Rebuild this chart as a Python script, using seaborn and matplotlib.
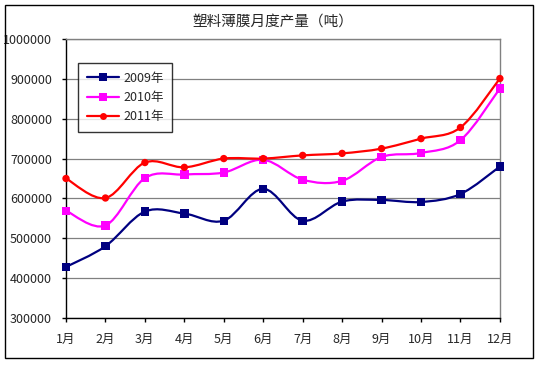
import numpy as np
import pandas as pd
import matplotlib
matplotlib.use("Agg")
import matplotlib.pyplot as plt
from matplotlib.path import Path
from matplotlib.patches import PathPatch, Rectangle
from matplotlib.lines import Line2D
import seaborn as sns

months = ["1月", "2月", "3月", "4月", "5月", "6月", "7月", "8月", "9月", "10月", "11月", "12月"]
y2009 = [428000, 480000, 567000, 562000, 544000, 624000, 544000, 592000, 596000, 591000, 611000, 680000]
y2010 = [569000, 532000, 651000, 660000, 665000, 697000, 647000, 644000, 704000, 714000, 746000, 876000]
y2011 = [650000, 601000, 690000, 678000, 700000, 700000, 708000, 713000, 725000, 750000, 778000, 901000]
years = ["2009年", "2010年", "2011年"]
colors = ["#000080", "#FF00FF", "#FF0000"]
markers = ["s", "s", "o"]
marker_sizes = [36, 36, 28]
yticks = [300000, 400000, 500000, 600000, 700000, 800000, 900000, 1000000]


def smooth_path(xs, ys):
    # bezier curve through the points, like Excel's smoothed lines
    pts = np.column_stack([xs, ys]).astype(float)
    n = len(pts)
    verts = [pts[0]]
    codes = [Path.MOVETO]
    for i in range(n - 1):
        p0 = pts[max(i - 1, 0)]
        p1 = pts[i]
        p2 = pts[i + 1]
        p3 = pts[min(i + 2, n - 1)]
        verts += [p1 + (p2 - p0) / 6, p2 - (p3 - p1) / 6, p2]
        codes += [Path.CURVE4] * 3
    return Path(verts, codes)


sns.set_style("white")
plt.rcParams["font.family"] = ["Noto Sans CJK SC", "DejaVu Sans"]

fig = plt.figure(figsize=(5.41, 3.65), dpi=100)
ax = fig.add_axes([0.122, 0.129, 0.802, 0.764])

x = list(range(len(months)))
series = [y2009, y2010, y2011]
for i, (name, vals) in enumerate(zip(years, series)):
    df = pd.DataFrame({"month": x, "value": vals})
    ax.add_patch(PathPatch(smooth_path(df["month"], df["value"]), fill=False,
                           edgecolor=colors[i], lw=1.6, zorder=3 + i, clip_on=False))
    sns.scatterplot(data=df, x="month", y="value", marker=markers[i], color=colors[i],
                    s=marker_sizes[i], edgecolor="none", linewidth=0, ax=ax, zorder=3 + i,
                    clip_on=False)

ax.set_xlim(0, 11)
ax.set_ylim(300000, 1000000)
ax.set_xticks(x)
ax.set_xticklabels(months)
ax.set_yticks(yticks)
ax.set_yticklabels([str(v) for v in yticks])
ax.set_xlabel("")
ax.set_ylabel("")
ax.grid(axis="y", color="#808080", lw=0.9)
ax.set_axisbelow(True)
ax.tick_params(axis="both", direction="out", length=3, width=1, color="black",
               labelsize=9, bottom=True, left=True)
ax.tick_params(axis="y", pad=7)
ax.tick_params(axis="x", pad=8)
for s in ["left", "bottom"]:
    ax.spines[s].set_color("black")
    ax.spines[s].set_linewidth(1)
for s in ["top", "right"]:
    ax.spines[s].set_color("#808080")
    ax.spines[s].set_linewidth(1)

handles = [Line2D([0], [0], color=c, lw=1.6, marker=m, markersize=6 if m == "s" else 5,
                  markeredgewidth=0) for c, m in zip(colors, markers)]
leg = ax.legend(handles, years, loc="upper left", bbox_to_anchor=(0.028, 0.914),
                frameon=True, fancybox=False, edgecolor="black", fontsize=9,
                handlelength=2.6, borderpad=0.7, labelspacing=0.5, handletextpad=0.3,
                borderaxespad=0)
leg.get_frame().set_linewidth(1)
leg.set_zorder(10)

fig.text(0.505, 0.94, "塑料薄膜月度产量（吨）", ha="center", va="center", fontsize=10.5)
fig.add_artist(Rectangle((0.0092, 0.019), 0.976, 0.967, transform=fig.transFigure,
                         fill=False, edgecolor="black", lw=1))

plt.savefig("out.png", dpi=100)
